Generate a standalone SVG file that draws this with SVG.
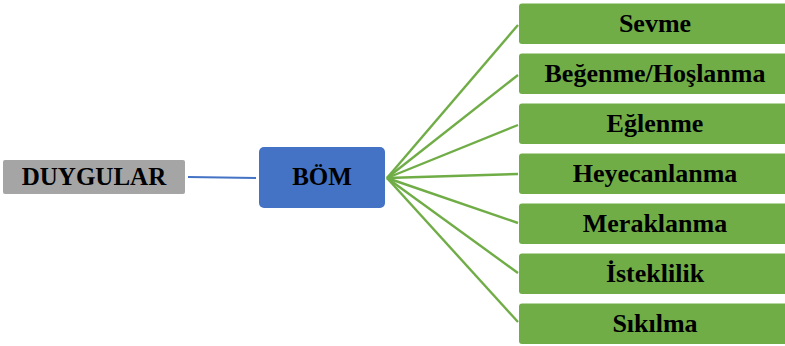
<svg xmlns="http://www.w3.org/2000/svg" width="785" height="346" viewBox="0 0 785 346">
<style>
.t{font-family:"Liberation Serif","Times New Roman",serif;font-weight:bold;font-size:25px;fill:#000;text-anchor:middle}
.s{font-size:26px}
.g{fill:#70ad47}
.c{stroke:#70ad47;stroke-width:2.4;fill:none}
</style>
<rect width="785" height="346" fill="#fff"/>
<g id="connectors">
<line x1="188" y1="177" x2="256" y2="178" stroke="#4472c4" stroke-width="2.2"/>
<line class="c" x1="387" y1="178" x2="518" y2="25"/>
<line class="c" x1="387" y1="178" x2="518" y2="75"/>
<line class="c" x1="387" y1="178" x2="518" y2="125"/>
<line class="c" x1="387" y1="178" x2="518" y2="174"/>
<line class="c" x1="387" y1="178" x2="518" y2="223"/>
<line class="c" x1="387" y1="178" x2="518" y2="273"/>
<line class="c" x1="387" y1="178" x2="518" y2="322"/>
</g>
<g id="duygular"><rect x="3" y="160" width="182" height="34" rx="2" fill="#a5a5a5"/><text class="t" x="94" y="185">DUYGULAR</text></g>
<g id="bom"><rect x="259" y="147" width="126" height="61" rx="5" fill="#4472c4"/><text class="t" x="322" y="185">BÖM</text></g>
<g id="sevme"><rect class="g" x="519" y="3.5" width="272" height="40.5" rx="3"/><text class="t s" x="655" y="32">Sevme</text></g>
<g id="begenme"><rect class="g" x="519" y="53.5" width="272" height="40.5" rx="3"/><text class="t s" x="655" y="82">Beğenme/Hoşlanma</text></g>
<g id="eglenme"><rect class="g" x="519" y="103.5" width="272" height="40.5" rx="3"/><text class="t s" x="655" y="132">Eğlenme</text></g>
<g id="heyecanlanma"><rect class="g" x="519" y="153.5" width="272" height="40.5" rx="3"/><text class="t s" x="655" y="182">Heyecanlanma</text></g>
<g id="meraklanma"><rect class="g" x="519" y="203.5" width="272" height="40.5" rx="3"/><text class="t s" x="655" y="232">Meraklanma</text></g>
<g id="isteklilik"><rect class="g" x="519" y="253.5" width="272" height="40.5" rx="3"/><text class="t s" x="655" y="282">İsteklilik</text></g>
<g id="sikilma"><rect class="g" x="519" y="303.5" width="272" height="40.5" rx="3"/><text class="t s" x="655" y="332">Sıkılma</text></g>
</svg>
